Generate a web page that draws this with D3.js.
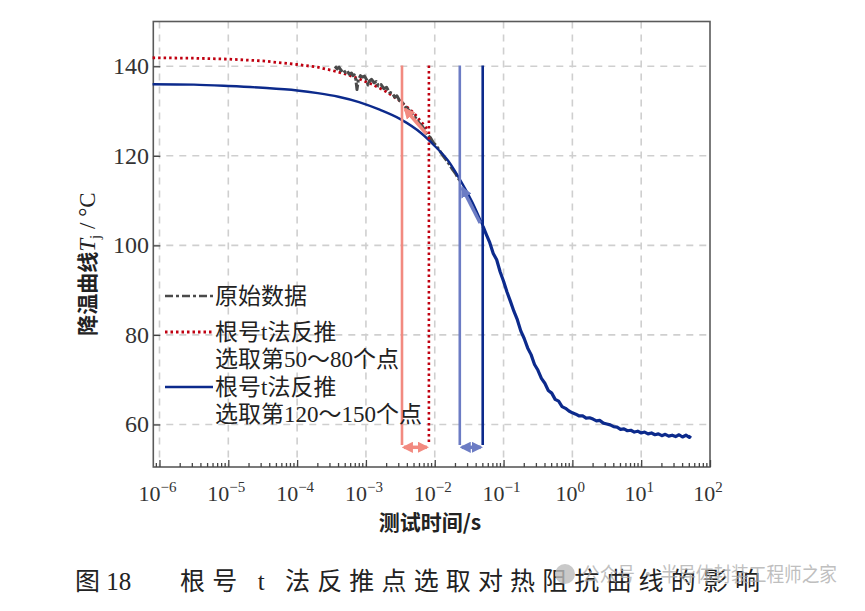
<!DOCTYPE html>
<html>
<head>
<meta charset="utf-8">
<script src="https://cdn.jsdelivr.net/npm/d3@7"></script>
<style>
  body { margin: 0; background: #fff; }
  svg { display: block; }
  .num { font-family: "Liberation Serif", "DejaVu Serif", serif; }
  .cjk { font-family: "Liberation Serif", "Noto Sans CJK SC", serif; }
</style>
</head>
<body>
<svg width="865" height="611"></svg>
<script>
// time values are stored as log10(t / s)
var redFitLog = [-6.1, -5.5, -5, -4.5, -4, -3.7, -3.5, -3.3, -3.1, -2.9, -2.7, -2.5, -2.3, -2.1];
var redFitT = [141.9, 141.8, 141.6, 141.2, 140.4, 139.8, 139.1, 138.3, 137.2, 135.9, 134.3, 132.2, 129.5, 125.8];

var blueFitLog = [-6.1, -5.5, -5, -4.5, -4, -3.7, -3.4, -3.1, -2.8, -2.5, -2.2, -2.0, -1.8, -1.6, -1.45, -1.3];
var blueFitT = [136.0, 135.9, 135.6, 135.2, 134.6, 134.0, 133.2, 132.0, 130.3, 128.2, 125.1, 122.2, 118.8, 113.8, 109.5, 104.3];

var blueTailLog = [-1.3, -1.25, -1.2, -1.15, -1.1, -1.05, -1.0, -0.95, -0.9, -0.85, -0.8, -0.75, -0.7, -0.65, -0.6, -0.55, -0.5, -0.45, -0.4, -0.35, -0.3, -0.25, -0.2, -0.15, -0.1, -0.05,
  0, 0.05, 0.1, 0.15, 0.2, 0.25, 0.3, 0.35, 0.4, 0.45, 0.5, 0.55, 0.6, 0.65, 0.7, 0.75, 0.8, 0.85, 0.9, 0.95, 1.0, 1.05, 1.1, 1.15, 1.2, 1.25, 1.3, 1.35, 1.4, 1.45, 1.5, 1.55, 1.6, 1.65, 1.7, 1.72];
var blueTailT = [104.3, 102.4, 100.6, 98.2, 96.8, 94.1, 92.0, 89.6, 87.5, 85.3, 83.4, 80.9, 79.2, 77.1, 75.6, 73.4, 72.1, 70.3, 69.2, 67.6, 67.0, 65.6, 65.2, 64.0, 63.6, 63.0,
  62.6, 62.3, 61.9, 61.9, 61.4, 61.5, 61.2, 60.8, 60.9, 60.3, 60.1, 59.9, 59.5, 59.4, 58.9, 59.0, 58.6, 58.7, 58.3, 58.5, 58.1, 58.3, 57.9, 58.1, 57.7, 57.9, 57.5, 57.8, 57.4, 57.6, 57.3, 57.7, 57.2, 57.6, 57.1, 57.5];

var rawLog = [-3.45, -3.42, -3.39, -3.36, -3.33, -3.3, -3.27, -3.24, -3.21, -3.19, -3.17, -3.15, -3.13, -3.11, -3.08, -3.05, -3.02, -2.99, -2.97, -2.95, -2.92, -2.88, -2.85, -2.82, -2.78, -2.74, -2.7, -2.66, -2.62, -2.58, -2.55, -2.51, -2.47, -2.43, -2.39, -2.35, -2.3, -2.26, -2.22, -2.18, -2.14, -2.1, -2.06, -2.02, -1.98, -1.94, -1.9, -1.86, -1.82, -1.78, -1.74, -1.7, -1.66, -1.62];
var rawT = [140.0, 139.4, 139.8, 139.0, 139.3, 138.6, 138.9, 138.2, 138.5, 137.9, 138.1, 137.4, 134.8, 137.0, 137.9, 137.6, 137.8, 137.0, 135.8, 136.7, 137.1, 136.3, 136.6, 135.6, 135.9, 135.0, 135.3, 134.2, 134.0, 133.1, 133.4, 132.3, 131.9, 131.0, 130.4, 129.8, 129.0, 128.0, 127.2, 126.6, 125.5, 124.6, 124.0, 122.9, 122.3, 121.4, 120.5, 119.6, 118.8, 117.9, 116.9, 116.1, 115.0, 114.2];

// selected fit points (log10 t)
var markLog = [-2.476, -2.085, -1.636, -1.303];
var markTop = 140.2, markBottom = 55.4, spanT = 54.9;
var arrowFrom = [[-2.12, 124.9], [-1.34, 105.0]];
var arrowTo = [[-2.43, 130.4], [-1.6, 112.8]];

var xExp = [-6, -5, -4, -3, -2, -1, 0, 1, 2];
var yTicks = [60, 80, 100, 120, 140];

var legendLabels = [["原始数据"], ["根号t法反推", "选取第50～80个点"], ["根号t法反推", "选取第120～150个点"]];

var svg = d3.select("svg");
var x = d3.scaleLog().domain([Math.pow(10, -6.09), 100]).range([153.3, 710]);
var y = d3.scaleLinear().domain([50.5, 150]).range([467, 21.5]);
var X = function (v) { return x(Math.pow(10, v)); };

var cDarkRed = "#c00010", cSalmon = "#f28a80", cLightBlue = "#6c7cc4", cBlue = "#0c2a8c", cGray = "#4a4a4a";

// grid
var grid = svg.append("g").attr("stroke", "#cfcfcf").attr("stroke-width", 1.6).attr("stroke-dasharray", "7,6");
grid.selectAll("line.gx").data(xExp.slice(0, -1)).enter().append("line")
  .attr("x1", function (d) { return X(d); }).attr("x2", function (d) { return X(d); })
  .attr("y1", y.range()[1]).attr("y2", y.range()[0]);
grid.selectAll("line.gy").data(yTicks).enter().append("line")
  .attr("x1", x.range()[0]).attr("x2", x.range()[1])
  .attr("y1", function (d) { return y(d); }).attr("y2", function (d) { return y(d); });

// frame
svg.append("rect").attr("x", x.range()[0]).attr("y", y.range()[1])
  .attr("width", x.range()[1] - x.range()[0]).attr("height", y.range()[0] - y.range()[1])
  .attr("fill", "none").attr("stroke", "#5a5a5a").attr("stroke-width", 1.6);

// axes ticks (inward)
var minor = [];
for (var e = -7; e < 2; e++) for (var m = 2; m < 10; m++) {
  var v = m * Math.pow(10, e);
  if (v > x.domain()[0] && v < 100) minor.push(v);
}
var axB = svg.append("g").attr("transform", "translate(0," + y.range()[0] + ")")
  .call(d3.axisBottom(x).tickValues(xExp.map(function (d) { return Math.pow(10, d); })).tickSize(-7).tickFormat(""));
axB.append("g").selectAll("line").data(minor).enter().append("line")
  .attr("x1", function (d) { return x(d); }).attr("x2", function (d) { return x(d); })
  .attr("y1", 0).attr("y2", -4);
axB.select(".domain").remove();
axB.selectAll("line").attr("stroke", "#444").attr("stroke-width", 1.3);

var axL = svg.append("g").attr("transform", "translate(" + x.range()[0] + ",0)")
  .call(d3.axisLeft(y).tickValues(yTicks).tickSize(-7).tickFormat(""));
axL.select(".domain").remove();
axL.selectAll("line").attr("stroke", "#444").attr("stroke-width", 1.3);

// tick labels
svg.selectAll("text.yt").data(yTicks).enter().append("text").attr("class", "num")
  .attr("x", 149).attr("y", function (d) { return y(d) + 8; })
  .attr("text-anchor", "end").attr("font-size", 24).attr("fill", "#333").text(function (d) { return d; });

var xl = svg.selectAll("text.xt").data(xExp).enter().append("text").attr("class", "num")
  .attr("x", function (d) { return X(d) - 2; }).attr("y", 501)
  .attr("text-anchor", "middle").attr("font-size", 22).attr("fill", "#333");
xl.append("tspan").text("10");
xl.append("tspan").attr("dy", -9).attr("font-size", 15).text(function (d) { return d < 0 ? "\u2212" + (-d) : d; });

// axis titles
var yl = svg.append("text").attr("transform", "translate(95," + 264 + ") rotate(-90)")
  .attr("text-anchor", "middle").attr("font-size", 21).attr("fill", "#222");
yl.append("tspan").attr("font-family", "Noto Sans CJK SC").attr("font-weight", "bold").text("降温曲线");
yl.append("tspan").attr("class", "num").attr("font-style", "italic").attr("font-size", 23).text("T");
yl.append("tspan").attr("class", "num").attr("font-size", 15).attr("dy", 5).text("j");
yl.append("tspan").attr("class", "num").attr("font-size", 23).attr("dy", -5).text(" / °C");

svg.append("text").attr("x", 430).attr("y", 530).attr("text-anchor", "middle").attr("font-size", 21)
  .attr("fill", "#222").attr("font-family", "Noto Sans CJK SC").attr("font-weight", "bold")
  .text("测试时间/s");

// curves
var line = d3.line().x(function (d) { return X(d[0]); }).y(function (d) { return y(d[1]); });
var zip = function (a, b) { return a.map(function (v, i) { return [v, b[i]]; }); };

svg.append("path").datum(zip(redFitLog, redFitT)).attr("d", line).attr("fill", "none")
  .attr("stroke", cDarkRed).attr("stroke-width", 2.8).attr("stroke-dasharray", "2.5,3");

svg.append("path").datum(zip(rawLog, rawT)).attr("d", line).attr("fill", "none")
  .attr("stroke", cGray).attr("stroke-width", 3).attr("stroke-linejoin", "round").attr("stroke-dasharray", "12,2,3,2");

svg.append("path").datum(zip(blueFitLog, blueFitT)).attr("d", line.curve(d3.curveMonotoneX)).attr("fill", "none")
  .attr("stroke", cBlue).attr("stroke-width", 2.4);
line.curve(d3.curveLinear);
svg.append("path").datum(zip(blueTailLog, blueTailT)).attr("d", line).attr("fill", "none")
  .attr("stroke", cBlue).attr("stroke-width", 3.2).attr("stroke-linejoin", "round");

// marker arrowheads
var defs = svg.append("defs");
[["hs", cSalmon], ["hb", cLightBlue]].forEach(function (p) {
  defs.append("marker").attr("id", p[0]).attr("viewBox", "0 0 10 10").attr("refX", 8).attr("refY", 5)
    .attr("markerWidth", 3.2).attr("markerHeight", 3.2).attr("orient", "auto-start-reverse")
    .append("path").attr("d", "M0,0L10,5L0,10z").attr("fill", p[1]);
});

// selected point lines
var vStyle = [[cSalmon, null], [cDarkRed, "2.5,3"], [cLightBlue, null], [cBlue, null]];
svg.selectAll("line.v").data(markLog).enter().append("line")
  .attr("x1", function (d) { return X(d); }).attr("x2", function (d) { return X(d); })
  .attr("y1", y(markTop)).attr("y2", y(markBottom))
  .attr("stroke", function (d, i) { return vStyle[i][0]; })
  .attr("stroke-dasharray", function (d, i) { return vStyle[i][1]; })
  .attr("stroke-width", 2.6);

[[0, 1, "hs", cSalmon], [2, 3, "hb", cLightBlue]].forEach(function (s) {
  svg.append("line").attr("x1", X(markLog[s[0]]) + 2).attr("x2", X(markLog[s[1]]) - 2)
    .attr("y1", y(spanT)).attr("y2", y(spanT)).attr("stroke", s[3]).attr("stroke-width", 3.5)
    .attr("marker-start", "url(#" + s[2] + ")").attr("marker-end", "url(#" + s[2] + ")");
});

[cSalmon, cLightBlue].forEach(function (c, i) {
  svg.append("line").attr("x1", X(arrowFrom[i][0])).attr("y1", y(arrowFrom[i][1]))
    .attr("x2", X(arrowTo[i][0])).attr("y2", y(arrowTo[i][1]))
    .attr("stroke", c).attr("stroke-width", 3.5).attr("marker-end", "url(#" + (i ? "hb" : "hs") + ")");
});

// legend
var lg = svg.append("g").attr("transform", "translate(165,0)");
var lgY = [296, 332, 387];
var lgStyle = [[cGray, "8,3,3,3", 2.6], [cDarkRed, "2.5,3", 2.8], [cBlue, null, 2.6]];
lgY.forEach(function (ly, i) {
  lg.append("line").attr("x1", 0).attr("x2", 48).attr("y1", ly).attr("y2", ly)
    .attr("stroke", lgStyle[i][0]).attr("stroke-dasharray", lgStyle[i][1]).attr("stroke-width", lgStyle[i][2]);
  legendLabels[i].forEach(function (t, k) {
    lg.append("text").attr("class", "cjk").attr("x", 50).attr("y", ly + 8 + k * 27)
      .attr("font-size", 23).attr("fill", "#222").text(t);
  });
});

// caption and watermark
svg.append("text").attr("class", "cjk").attr("x", 75).attr("y", 590).attr("font-size", 25).attr("fill", "#222").text("图 18");
svg.append("text").attr("class", "cjk").attr("x", 180).attr("y", 590).attr("font-size", 25).attr("fill", "#222")
  .attr("textLength", 580).attr("lengthAdjust", "spacing").text("根号 t 法反推点选取对热阻抗曲线的影响");
svg.append("circle").attr("cx", 565).attr("cy", 574).attr("r", 10).attr("fill", "#bbb").attr("opacity", 0.8);
svg.append("text").attr("x", 582).attr("y", 582).attr("font-family", "Noto Sans CJK SC").attr("font-size", 20)
  .attr("textLength", 255).attr("lengthAdjust", "spacingAndGlyphs")
  .attr("fill", "#aaa").attr("opacity", 0.75).text("公众号 · 半导体封装工程师之家");
</script>
</body>
</html>
